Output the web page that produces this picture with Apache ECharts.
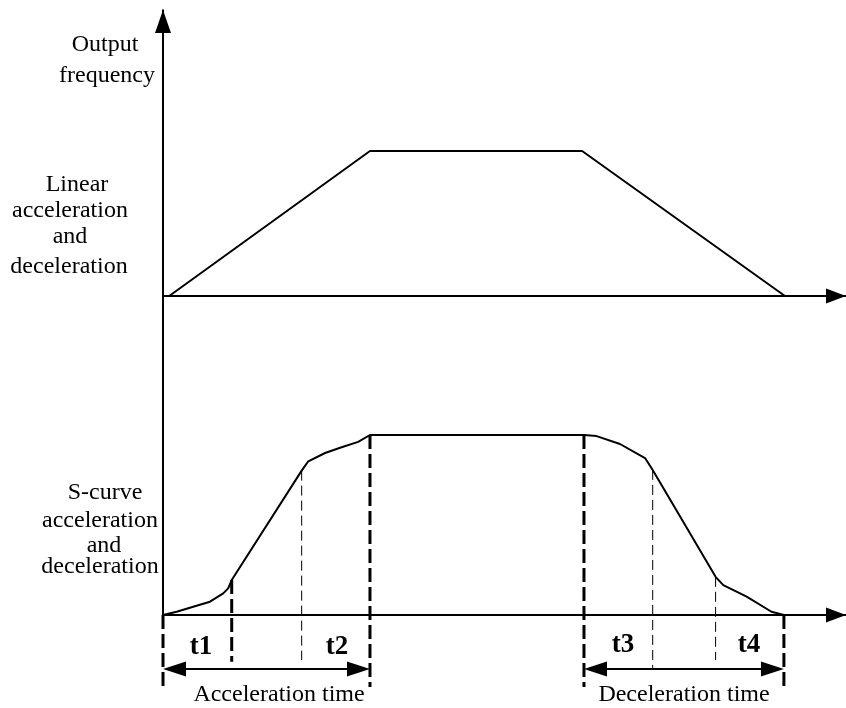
<!DOCTYPE html>
<html><head><meta charset="utf-8">
<script src="https://cdn.jsdelivr.net/npm/echarts@6/dist/echarts.min.js"></script>
<style>html,body{margin:0;padding:0;background:#fff}#c{width:846px;height:708px}</style>
</head><body><div id="c"></div>
<script>
// time (x) vs output frequency (y)
const linearProfile = [[0.3,0],[10,50],[20.25,50],[30.05,0]];
const sCurveProfile = [[0,0],[0.66,0.9],[1.46,2.3],[2.27,3.7],[2.91,6.0],[3.15,7.4],[3.32,9.7],
  [6.7,40.1],[7.02,42.7],[7.83,45.0],[8.63,46.6],[9.43,48.1],[10,50],
  [20.34,50],[20.95,49.7],[22.08,47.5],[23.29,43.6],[23.66,40.3],
  [26.7,10.6],[27.07,8.3],[28.2,5.1],[29.4,0.9],[30,0]];
// [x, yTop, yBottom]
const thickMarkers = [[0,0,-20],[3.32,9.7,-13],[10,50,-20],[20.34,50,-20],[30,0,-20]];
const thinMarkers = [[6.7,40.1,-12.5],[23.66,40.3,-14.7],[26.7,10.6,-12.5]];
// [xStart, xEnd, y]
const spanArrows = [[0,10,-15],[20.34,30,-15]];
const axisTitle = ['Output','frequency'];
const linearTitle = ['Linear','acceleration','and','deceleration'];
const sCurveTitle = ['S-curve','acceleration','and','deceleration'];
const phaseLabels = ['t1','t2','t3','t4'];
const spanLabels = ['Acceleration time','Deceleration time'];

const SERIF = '"Liberation Serif","Times New Roman",serif';
const chart = echarts.init(document.getElementById('c'));

function segRender(width, dash){
  return function(params, api){
    const p1 = api.coord([api.value(0), api.value(1)]);
    const p2 = api.coord([api.value(0), api.value(2)]);
    return {type:'line', shape:{x1:p1[0],y1:p1[1],x2:p2[0],y2:p2[1]},
      style:{stroke:'#000', lineWidth:width, lineDash:dash, fill:null}};
  };
}
function arrowRender(params, api){
  const a = api.coord([api.value(0), api.value(2)]);
  const b = api.coord([api.value(1), api.value(2)]);
  const L = 23, H = 7.5;
  return {type:'group', children:[
    {type:'line', shape:{x1:a[0]+L-2,y1:a[1],x2:b[0]-L+2,y2:b[1]}, style:{stroke:'#000',lineWidth:2}},
    {type:'polygon', shape:{points:[[a[0],a[1]],[a[0]+L,a[1]-H],[a[0]+L,a[1]+H]]}, style:{fill:'#000'}},
    {type:'polygon', shape:{points:[[b[0],b[1]],[b[0]-L,b[1]-H],[b[0]-L,b[1]+H]]}, style:{fill:'#000'}}
  ]};
}
function txt(text, x, baseline, size, bold){
  return {type:'text', x:x, y:baseline - size*0.34, z:10,
    style:{text:text, fill:'#000', font:(bold?'bold ':'')+size+'px '+SERIF, align:'center', verticalAlign:'middle'}};
}

const axisLineX = {show:true, onZero:true, lineStyle:{color:'#000', width:2},
  symbol:['none','triangle'], symbolSize:[15,20], symbolOffset:[0,-10]};

chart.setOption({
  animation:false,
  backgroundColor:'#fff',
  grid:[
    {left:163, top:6, width:683, height:290},
    {left:163, top:10.2, width:683, height:604.8}
  ],
  xAxis:[
    {gridIndex:0, type:'value', min:0, max:33, axisLine:axisLineX, axisTick:{show:false}, axisLabel:{show:false}, splitLine:{show:false}},
    {gridIndex:1, type:'value', min:0, max:33, axisLine:axisLineX, axisTick:{show:false}, axisLabel:{show:false}, splitLine:{show:false}}
  ],
  yAxis:[
    {gridIndex:0, type:'value', min:0, max:100, show:false},
    {gridIndex:1, type:'value', min:0, max:168, axisLine:{show:true, onZero:false, lineStyle:{color:'#000', width:2},
      symbol:['none','triangle'], symbolSize:[16,23], symbolOffset:[0,-11.3]},
      axisTick:{show:false}, axisLabel:{show:false}, splitLine:{show:false}}
  ],
  series:[
    {type:'line', xAxisIndex:0, yAxisIndex:0, data:linearProfile, showSymbol:false, symbol:'none',
      lineStyle:{color:'#000', width:2}, clip:false, z:5},
    {type:'line', xAxisIndex:1, yAxisIndex:1, data:sCurveProfile, showSymbol:false, symbol:'none',
      lineStyle:{color:'#000', width:2, join:'round'}, clip:false, z:5},
    {type:'custom', xAxisIndex:1, yAxisIndex:1, data:thickMarkers, encode:{x:0, y:[1,2]},
      renderItem:segRender(3,[14,5]), clip:false, z:4},
    {type:'custom', xAxisIndex:1, yAxisIndex:1, data:thinMarkers, encode:{x:0, y:[1,2]},
      renderItem:segRender(1,[10,5]), clip:false, z:4},
    {type:'custom', xAxisIndex:1, yAxisIndex:1, data:spanArrows, encode:{x:[0,1], y:2},
      renderItem:arrowRender, clip:false, z:6}
  ],
  graphic:[
    txt(axisTitle[0],105,53,24), txt(axisTitle[1],107,84,24),
    txt(linearTitle[0],77,193,24), txt(linearTitle[1],70,219,24),
    txt(linearTitle[2],70,245,24), txt(linearTitle[3],69,275,24),
    txt(sCurveTitle[0],105,501,24), txt(sCurveTitle[1],100,529,24),
    txt(sCurveTitle[2],104,554,24), txt(sCurveTitle[3],100,575,24),
    txt(phaseLabels[0],201,656,27,true), txt(phaseLabels[1],337,656,27,true),
    txt(phaseLabels[2],623,654,27,true), txt(phaseLabels[3],749,654,27,true),
    txt(spanLabels[0],279,703,24), txt(spanLabels[1],684,703,24)
  ]
});
</script></body></html>
